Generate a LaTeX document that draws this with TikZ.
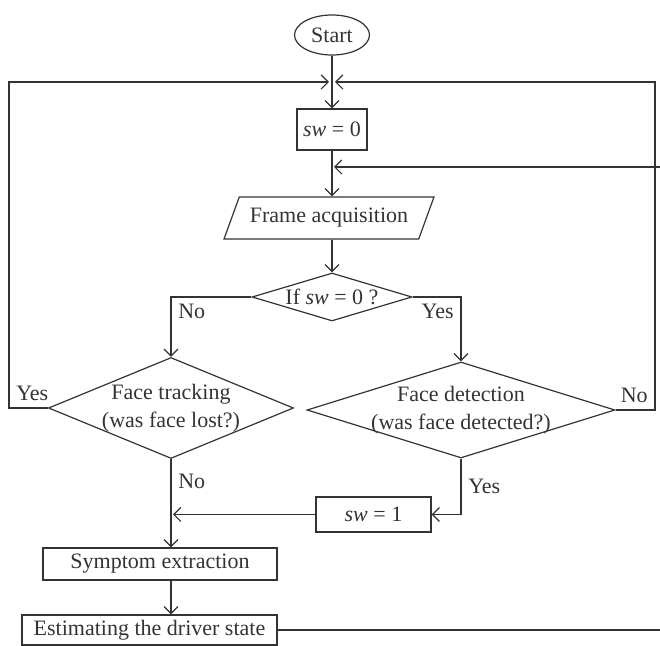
\documentclass[tikz,border=0pt]{standalone}
\usepackage{fontspec}
\setmainfont{Liberation Serif}
\usetikzlibrary{shapes.geometric,arrows.meta}
\definecolor{ink}{gray}{0.2}

\begin{document}
\begin{tikzpicture}[x=0.5pt,y=-0.5pt,
    every node/.style={font=\fontsize{11}{14}\selectfont, text=ink},
    box/.style={draw=ink, line width=0.6pt, inner sep=0pt},
    choice/.style={draw=ink, line width=0.6pt, diamond, aspect=3, inner sep=-4pt, align=center},
    flow/.style={draw=ink, line width=0.6pt, -{Straight Barb[length=3.5pt,width=7pt]}}]
	\useasboundingbox (0,0) rectangle (660,646);
	% blocks
	\node[box, ellipse, minimum width=37.5pt, minimum height=20pt] (start) at (332,35) {Start};
	\node[box, minimum width=35pt, minimum height=20.5pt] (sw0) at (332,129.5) {\textit{sw} = 0};
	\node[box, trapezium, trapezium left angle=55, trapezium right angle=125, trapezium stretches=true,
		minimum width=106pt, minimum height=21pt] (frame) at (329,218) {Frame acquisition};
	\node[choice, minimum width=80pt, minimum height=24pt] (test) at (332,297) {If \textit{sw} = 0 ?};
	\node[choice, minimum width=122.5pt, minimum height=50.5pt] (track) at (171,408) {Face tracking\\(was face lost?)};
	\node[choice, minimum width=154pt, minimum height=48pt] (detect) at (461,410) {Face detection\\(was face detected?)};
	\node[box, minimum width=57.5pt, minimum height=17.5pt] (sw1) at (373.5,514.5) {\textit{sw} = 1};
	\node[box, minimum width=117pt, minimum height=16pt] (symptom) at (160,564) {Symptom extraction};
	\node[box, minimum width=127.5pt, minimum height=15pt] (estimate) at (149.5,630) {Estimating the driver state};
	% loop points
	\coordinate (top) at (332,82);
	\coordinate (mid) at (332,167);
	\coordinate (lx) at (9,82);
	\coordinate (rx) at (655,82);
	\coordinate (far) at (720,167);
	% connectors
	\draw[flow] (start) -- (sw0);
	\draw[flow, shorten >=1.5pt] (track.west) -| node[pos=0.5, above right]{Yes} (lx) -- (top);
	\draw[flow, shorten >=1.5pt] (detect.east) -| node[pos=0.5, above left]{No} (rx) -- (top);
	\draw[flow] (sw0.south) -- (sw0.south |- frame.north);
	\draw[flow, shorten >=1pt] (estimate.east) -| (far) -- (mid);
	\draw[flow] (mid |- frame.south) -- (test.north);
	\draw[flow] (test.west) -| node[pos=0.5, below right]{No} (track.north);
	\draw[flow] (test.east) -| node[pos=0.5, below left]{Yes} (detect.north);
	\draw[flow] (track.south) -- node[pos=0.25, right]{No} (track.south |- symptom.north);
	\draw[flow] (detect.south) |- node[pos=0.25, right]{Yes} (sw1.east);
	\draw[flow, shorten >=1pt] (sw1.west) -- (sw1.west -| track.south);
	\draw[flow] (track.south |- symptom.south) -- (track.south |- estimate.north);
\end{tikzpicture}
\end{document}
